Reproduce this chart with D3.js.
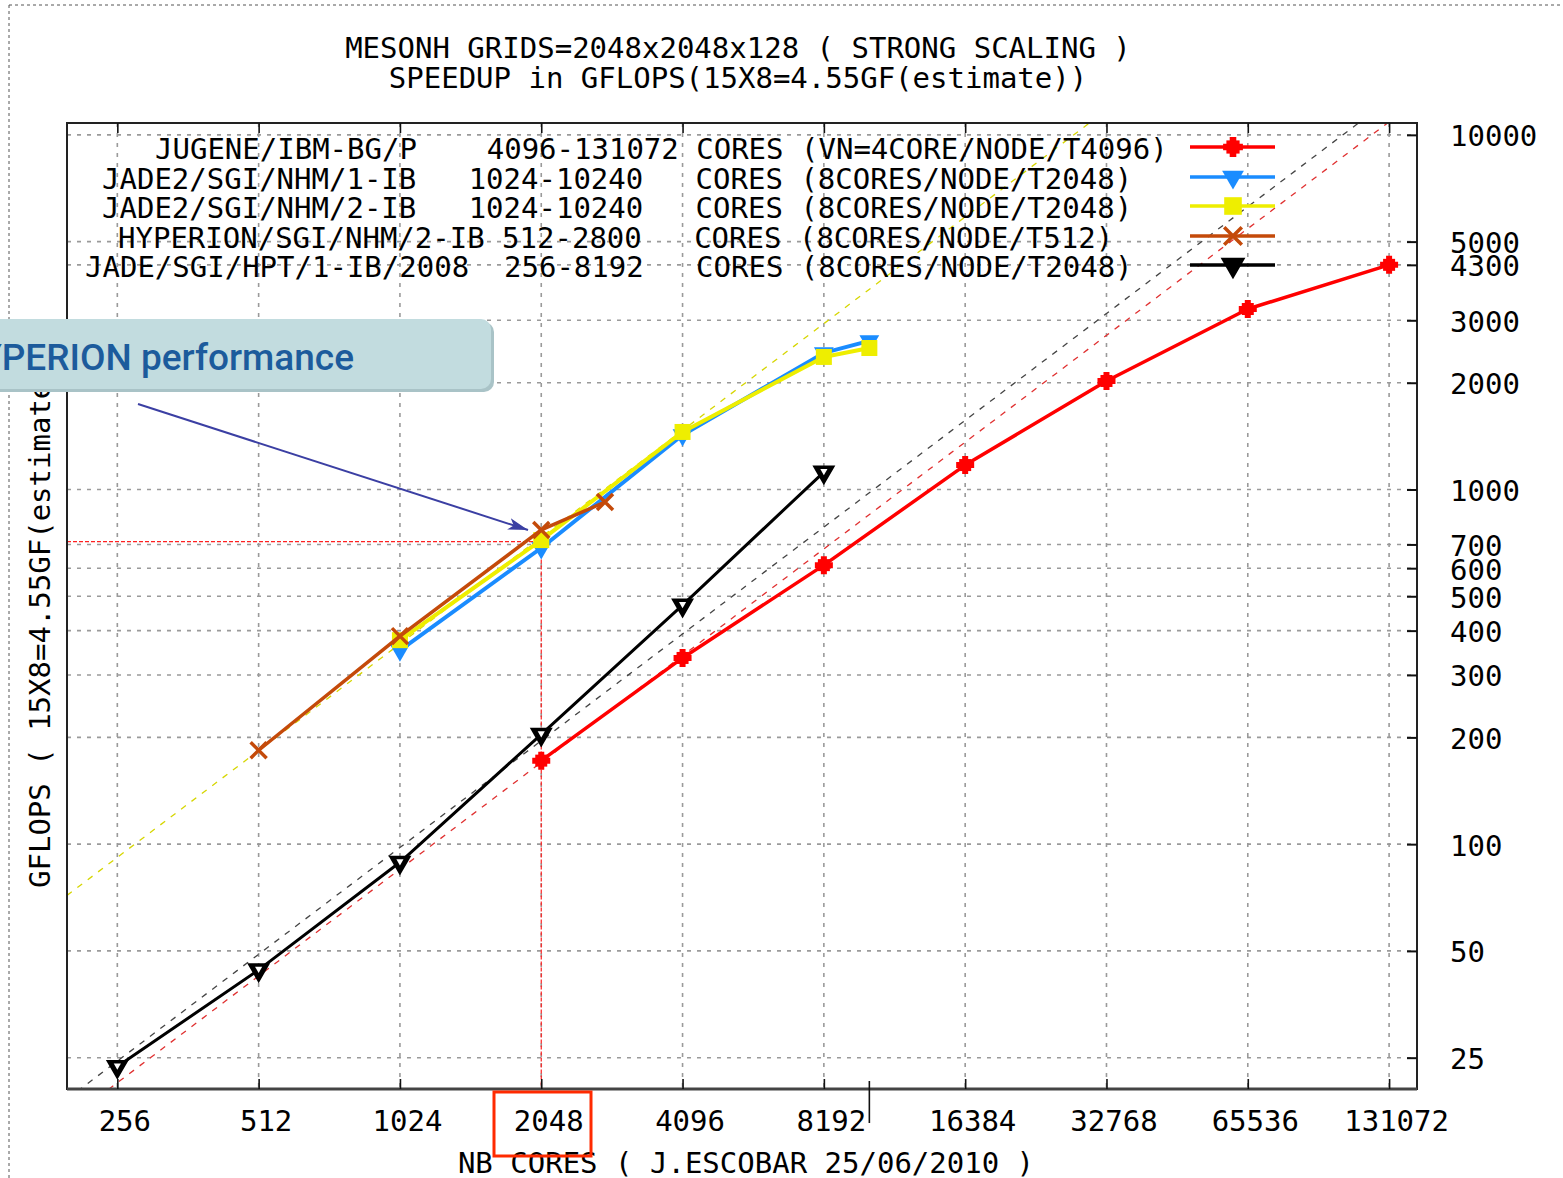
<!DOCTYPE html>
<html>
<head>
<meta charset="utf-8">
<script src="https://cdn.jsdelivr.net/npm/d3@7"></script>
<style>
  html, body { margin: 0; padding: 0; background: #fff; }
  svg { display: block; }
  .mono { font-family: "DejaVu Sans Mono", "Liberation Mono", monospace; font-size: 29px; fill: #000; white-space: pre; }
</style>
</head>
<body>
<svg id="chart" width="1563" height="1178"></svg>
<script>
// ---------------- DATA ----------------
const xTicks = [256, 512, 1024, 2048, 4096, 8192, 16384, 32768, 65536, 131072];
const yTicks = [25, 50, 100, 200, 300, 400, 500, 600, 700, 1000, 2000, 3000, 4300, 5000, 10000];

const jugeneCores = [2048, 4096, 8192, 16384, 32768, 65536, 131072];
const jugeneGF    = [172, 335, 612, 1172, 2023, 3228, 4300];

const jade2ib1Cores = [1024, 2048, 4096, 8192, 10240];
const jade2ib1GF    = [352, 684, 1425, 2427, 2624];

const jade2ib2Cores = [1024, 2048, 4096, 8192, 10240];
const jade2ib2GF    = [376, 720, 1453, 2365, 2506];

const hyperionCores = [512, 1024, 2048, 2800];
const hyperionGF    = [184, 386, 769, 922];

const jadeCores = [256, 512, 1024, 2048, 4096, 8192];
const jadeGF    = [23.6, 44.2, 88.9, 204, 472, 1120];

// ideal (linear) scaling reference lines: two end points each
const idealYellowCores = [200, 30000];
const idealYellowGF    = [71.7, 10750];
const idealBlackCores  = [200, 128000];
const idealBlackGF     = [19.1, 12250];
const idealRedCores    = [200, 131072];
const idealRedGF       = [16.6, 10880];

// annotation: highlighted 2048-core performance level
const markCores = 2048;
const markGF = 713;

const legendNames = [
  "JUGENE/IBM-BG/P    4096-131072 CORES (VN=4CORE/NODE/T4096)",
  "JADE2/SGI/NHM/1-IB   1024-10240   CORES (8CORES/NODE/T2048)",
  "JADE2/SGI/NHM/2-IB   1024-10240   CORES (8CORES/NODE/T2048)",
  "HYPERION/SGI/NHM/2-IB 512-2800   CORES (8CORES/NODE/T512)",
  "JADE/SGI/HPT/1-IB/2008  256-8192   CORES (8CORES/NODE/T2048)"
];

// ---------------- CHART ----------------
const svg = d3.select("#chart");
const L = 67, R = 1417, T = 123, B = 1089;

const x = d3.scaleLog().base(2).domain([200, 150300]).range([L, R]);
const y = d3.scaleLog().base(10).domain([20.4, 10800]).range([B, T]);

// page border (dashed)
svg.append("line").attr("x1", 9).attr("x2", 1563).attr("y1", 5).attr("y2", 5)
  .attr("stroke", "#555").attr("stroke-dasharray", "3,3").attr("stroke-width", 1);
svg.append("line").attr("x1", 9).attr("x2", 9).attr("y1", 5).attr("y2", 1178)
  .attr("stroke", "#555").attr("stroke-dasharray", "3,3").attr("stroke-width", 1);

// clip
svg.append("defs").append("clipPath").attr("id", "plotclip")
  .append("rect").attr("x", L).attr("y", T).attr("width", R - L).attr("height", B - T);

// grid
const grid = svg.append("g");
grid.selectAll("line.gx").data(xTicks).join("line")
  .attr("x1", d => x(d)).attr("x2", d => x(d)).attr("y1", T).attr("y2", B)
  .attr("stroke", "#9a9a9a").attr("stroke-width", 1.6).attr("stroke-dasharray", "4,6");
grid.selectAll("line.gy").data(yTicks).join("line")
  .attr("x1", L).attr("x2", R).attr("y1", d => y(d)).attr("y2", d => y(d))
  .attr("stroke", "#9a9a9a").attr("stroke-width", 1.6).attr("stroke-dasharray", "4,6");

const plot = svg.append("g").attr("clip-path", "url(#plotclip)");
const line = d3.line().x(d => x(d[0])).y(d => y(d[1]));
const zip = (a, b) => a.map((v, i) => [v, b[i]]);

// ideal lines
[[idealYellowCores, idealYellowGF, "#d6d600"],
 [idealBlackCores, idealBlackGF, "#444"],
 [idealRedCores, idealRedGF, "#e03030"]].forEach(([c, g, col]) => {
  plot.append("path").attr("d", line(zip(c, g))).attr("fill", "none")
    .attr("stroke", col).attr("stroke-width", 1.3).attr("stroke-dasharray", "6,7");
});

// red annotation dashed lines
plot.append("line").attr("x1", L).attr("x2", x(markCores)).attr("y1", y(markGF)).attr("y2", y(markGF))
  .attr("stroke", "#ff2020").attr("stroke-width", 1.2).attr("stroke-dasharray", "4,2");
plot.append("line").attr("x1", x(markCores)).attr("x2", x(markCores)).attr("y1", y(markGF)).attr("y2", B)
  .attr("stroke", "#ff2020").attr("stroke-width", 1.2).attr("stroke-dasharray", "4,2");

// marker drawers
function drawMarker(g, type, color, cx, cy, s) {
  s = s || 1;
  if (type === "red") {
    g.append("rect").attr("x", cx - 6 * s).attr("y", cy - 6 * s).attr("width", 12 * s).attr("height", 12 * s).attr("fill", color);
    g.append("path").attr("d", d3.symbol(d3.symbolCross, 180 * s * s)()).attr("transform", `translate(${cx},${cy})`).attr("fill", color);
  } else if (type === "blue") {
    g.append("path").attr("d", d3.symbol(d3.symbolTriangle, 170 * s * s)()).attr("transform", `translate(${cx},${cy}) rotate(180)`).attr("fill", color);
  } else if (type === "yellow") {
    g.append("rect").attr("x", cx - 8 * s).attr("y", cy - 8 * s).attr("width", 16 * s).attr("height", 16 * s).attr("fill", color);
  } else if (type === "brown") {
    g.append("path").attr("d", `M${-8 * s},${-8 * s}L${8 * s},${8 * s}M${-8 * s},${8 * s}L${8 * s},${-8 * s}`)
      .attr("transform", `translate(${cx},${cy})`).attr("stroke", color).attr("stroke-width", 3.5).attr("fill", "none");
  } else if (type === "black") {
    g.append("path").attr("d", d3.symbol(d3.symbolTriangle, 150 * s * s)()).attr("transform", `translate(${cx},${cy}) rotate(180)`)
      .attr("fill", color).attr("stroke", color).attr("stroke-width", 2.5);
    if (s < 1.05) {
      g.append("path").attr("d", d3.symbol(d3.symbolTriangle, 22)()).attr("transform", `translate(${cx},${cy - 1}) rotate(180)`)
        .attr("fill", "#fff");
    }
  }
}

const series = [
  { cores: jugeneCores, gf: jugeneGF, color: "#ff0000", type: "red", w: 3.5 },
  { cores: jade2ib1Cores, gf: jade2ib1GF, color: "#1a8cff", type: "blue", w: 4 },
  { cores: jade2ib2Cores, gf: jade2ib2GF, color: "#eeee00", type: "yellow", w: 4 },
  { cores: hyperionCores, gf: hyperionGF, color: "#c44a0a", type: "brown", w: 3.5 },
  { cores: jadeCores, gf: jadeGF, color: "#000000", type: "black", w: 3 }
];

series.forEach(s => {
  const g = svg.append("g");
  g.append("path").attr("d", line(zip(s.cores, s.gf))).attr("fill", "none")
    .attr("stroke", s.color).attr("stroke-width", s.w).attr("stroke-linejoin", "round");
  s.cores.forEach((c, i) => drawMarker(g, s.type, s.color, x(c), y(s.gf[i])));
});

// frame
svg.append("rect").attr("x", L).attr("y", T).attr("width", R - L).attr("height", B - T)
  .attr("fill", "none").attr("stroke", "#222").attr("stroke-width", 2);
svg.append("line").attr("x1", L).attr("x2", R).attr("y1", B).attr("y2", B).attr("stroke", "#444").attr("stroke-width", 3);

// axes: inward ticks
const xb = svg.append("g").attr("transform", `translate(0,${B})`)
  .call(d3.axisBottom(x).tickValues(xTicks).tickSize(-10).tickFormat(""));
const xt = svg.append("g").attr("transform", `translate(0,${T})`)
  .call(d3.axisTop(x).tickValues(xTicks).tickSize(-10).tickFormat(""));
[xb, xt].forEach(a => { a.select(".domain").remove(); a.selectAll("line").attr("stroke", "#111").attr("stroke-width", 1.6); });

// x labels
const xl = svg.append("g").attr("transform", `translate(0,${B})`)
  .call(d3.axisBottom(x).tickValues(xTicks).tickSize(0).tickPadding(21).tickFormat(d3.format("d")));
xl.select(".domain").remove();
xl.selectAll("text").attr("class", "mono").attr("x", 7).style("font-size", "29px").style("font-family", '"DejaVu Sans Mono", monospace').attr("fill", "#000");

// extra tick at 10240
svg.append("line").attr("x1", x(10240)).attr("x2", x(10240)).attr("y1", B - 8).attr("y2", B + 34)
  .attr("stroke", "#111").attr("stroke-width", 1.6);

// right axis
const yr = svg.append("g").attr("transform", `translate(${R},0)`)
  .call(d3.axisRight(y).tickValues(yTicks).tickSize(-10).tickPadding(33).tickFormat(d3.format("d")));
yr.select(".domain").remove();
yr.selectAll("line").attr("stroke", "#111").attr("stroke-width", 2);
yr.selectAll("text").attr("class", "mono").attr("dy", "0.38em").style("font-size", "29px")
  .style("font-family", '"DejaVu Sans Mono", monospace').attr("fill", "#000");

// titles
svg.append("text").attr("class", "mono").attr("x", 738).attr("y", 58).attr("text-anchor", "middle")
  .text("MESONH GRIDS=2048x2048x128 ( STRONG SCALING )");
svg.append("text").attr("class", "mono").attr("x", 738).attr("y", 88).attr("text-anchor", "middle")
  .text("SPEEDUP in GFLOPS(15X8=4.55GF(estimate))");
svg.append("text").attr("class", "mono").attr("x", 746).attr("y", 1173).attr("text-anchor", "middle")
  .text("NB CORES ( J.ESCOBAR 25/06/2010 )");
svg.append("text").attr("class", "mono").attr("transform", "translate(50,888) rotate(-90)")
  .text("GFLOPS ( 15X8=4.55GF(estimate) )");

// legend
const legStart = [155, 102, 102, 118, 85];
const legRowY = [147, 177, 206, 236, 265];
legendNames.forEach((name, i) => {
  svg.append("text").attr("class", "mono").attr("x", legStart[i]).attr("y", legRowY[i] + 12).text(name);
  const s = series[i];
  svg.append("line").attr("x1", 1190).attr("x2", 1275).attr("y1", legRowY[i]).attr("y2", legRowY[i])
    .attr("stroke", s.color).attr("stroke-width", 3.5);
  drawMarker(svg, s.type, s.color, 1233, legRowY[i], 1.1);
});

// red box around 2048 label
svg.append("rect").attr("x", 494).attr("y", 1092).attr("width", 97).attr("height", 64)
  .attr("fill", "none").attr("stroke", "#ff2a00").attr("stroke-width", 3);

// callout
const co = svg.append("g");
co.append("rect").attr("x", -20).attr("y", 322).attr("width", 514).attr("height", 70).attr("rx", 10)
  .attr("fill", "#a9c3c7");
co.append("rect").attr("x", -20).attr("y", 319).attr("width", 511).attr("height", 70).attr("rx", 10)
  .attr("fill", "#c2dcdf");
co.append("text").attr("x", 354).attr("y", 370).attr("text-anchor", "end")
  .style("font-family", "Roboto, 'Open Sans', sans-serif").style("font-size", "37px").style("font-weight", 500)
  .attr("fill", "#1c5b9c").text("HYPERION performance");

// arrow
const defs = svg.select("defs");
defs.append("marker").attr("id", "arrowhead").attr("viewBox", "0 0 20 12").attr("refX", 20).attr("refY", 6)
  .attr("markerWidth", 20).attr("markerHeight", 12).attr("markerUnits", "userSpaceOnUse").attr("orient", "auto")
  .append("path").attr("d", "M0,0L20,6L0,12L5,6Z").attr("fill", "#3b3fa3");
svg.append("line").attr("x1", 138).attr("y1", 404).attr("x2", 528).attr("y2", 530)
  .attr("stroke", "#3b3fa3").attr("stroke-width", 2).attr("marker-end", "url(#arrowhead)");
</script>
</body>
</html>
